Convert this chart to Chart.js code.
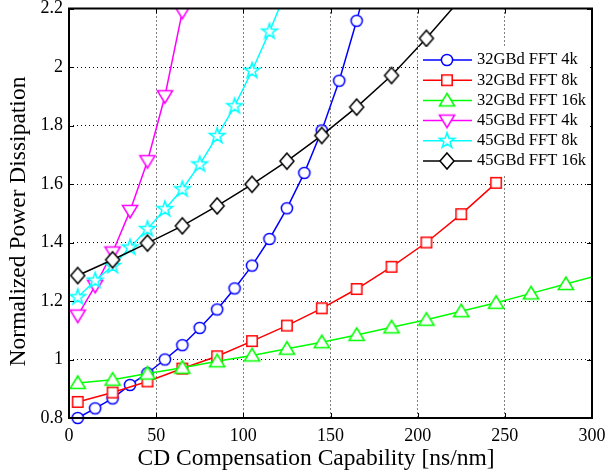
<!DOCTYPE html>
<html><head><meta charset="utf-8">
<script src="https://cdn.jsdelivr.net/npm/chart.js@4.4.0/dist/chart.umd.min.js"></script>
<style>html,body{margin:0;padding:0;background:#fff;}canvas{display:block;}</style>
</head><body>
<canvas id="c" width="607" height="473"></canvas>
<script>
// ---- data ----
const seriesNames = ['32GBd FFT 4k','32GBd FFT 8k','32GBd FFT 16k','45GBd FFT 4k','45GBd FFT 8k','45GBd FFT 16k'];
const x32_4k  = [5,15,25,35,45,55,65,75,85,95,105,115,125,135,145,155,165,175];
const y32_4k  = [0.800,0.833,0.867,0.913,0.953,1.000,1.049,1.108,1.171,1.243,1.321,1.412,1.517,1.638,1.783,1.953,2.158,2.380];
const x32_8k  = [5,25,45,65,85,105,125,145,165,185,205,225,245];
const y32_8k  = [0.855,0.887,0.925,0.969,1.011,1.063,1.116,1.175,1.241,1.317,1.400,1.497,1.604];
const x32_16k = [5,25,45,65,85,105,125,145,165,185,205,225,245,265,285,305];
const y32_16k = [0.920,0.931,0.952,0.972,0.994,1.014,1.037,1.059,1.084,1.110,1.136,1.165,1.194,1.226,1.258,1.290];
const x45_4k  = [5,15,25,35,45,55,65];
const y45_4k  = [1.150,1.252,1.366,1.508,1.678,1.900,2.189];
const x45_8k  = [5,15,25,35,45,55,65,75,85,95,105,115,125];
const y45_8k  = [1.213,1.270,1.320,1.383,1.446,1.514,1.582,1.667,1.764,1.866,1.987,2.121,2.265];
const x45_16k = [5,25,45,65,85,105,125,145,165,185,205,225];
const y45_16k = [1.287,1.341,1.398,1.457,1.525,1.599,1.678,1.766,1.863,1.971,2.098,2.235];

const xTickValues = [0,50,100,150,200,250,300];
const xTickLabels = ['0','50','100','150','200','250','300'];
const yTickValues = [0.8,1,1.2,1.4,1.6,1.8,2,2.2];
const yTickLabels = ['0.8','1','1.2','1.4','1.6','1.8','2','2.2'];
const xTitle = 'CD Compensation Capability [ns/nm]';
const yTitle = 'Normalized Power Dissipation';

// ---- styles ----
const colors = ['#0000ff','#ff0000','#00ff00','#ff00ff','#00ffff','#000000'];
const markerKinds = ['circle','square','up','down','star','diamond'];
const SERIF = "'Liberation Serif', 'Times New Roman', serif";

function makeMarker(kind, color) {
  const c = document.createElement('canvas'); c.width = 22; c.height = 22;
  const g = c.getContext('2d'); const cx = 11, cy = 11;
  g.lineWidth = 1.5; g.strokeStyle = color; g.fillStyle = '#fff'; g.lineJoin = 'miter';
  g.beginPath();
  switch (kind) {
    case 'circle': g.arc(cx, cy, 5.6, 0, Math.PI * 2); break;
    case 'square': g.rect(cx - 5.2, cy - 5.2, 10.4, 10.4); break;
    case 'up': g.moveTo(cx, cy - 7); g.lineTo(cx + 7.6, cy + 5.6); g.lineTo(cx - 7.6, cy + 5.6); g.closePath(); break;
    case 'down': g.moveTo(cx, cy + 7); g.lineTo(cx + 7.6, cy - 5.6); g.lineTo(cx - 7.6, cy - 5.6); g.closePath(); break;
    case 'diamond': g.moveTo(cx, cy - 8); g.lineTo(cx + 7, cy); g.lineTo(cx, cy + 8); g.lineTo(cx - 7, cy); g.closePath(); break;
    case 'star':
      for (let k = 0; k < 10; k++) {
        const r = k % 2 ? 3.2 : 8.2; const a = -Math.PI / 2 + k * Math.PI / 5;
        const px = cx + r * Math.cos(a), py = cy + r * Math.sin(a);
        if (k) g.lineTo(px, py); else g.moveTo(px, py);
      }
      g.closePath(); break;
  }
  g.fill(); g.stroke();
  return c;
}
const markers = markerKinds.map((k, i) => makeMarker(k, colors[i]));

const xs = [x32_4k, x32_8k, x32_16k, x45_4k, x45_8k, x45_16k];
const ys = [y32_4k, y32_8k, y32_16k, y45_4k, y45_8k, y45_16k];

const datasets = seriesNames.map((name, i) => ({
  label: name,
  data: xs[i].map((xv, j) => ({ x: xv, y: ys[i][j] })),
  borderColor: colors[i],
  backgroundColor: colors[i],
  borderWidth: 1.5,
  pointStyle: markers[i],
  pointRadius: 7,
  pointHoverRadius: 7,
  tension: 0,
  order: 5 - i,
  clip: { left: 10, right: 0, top: 0, bottom: 10 }
}));

const framePlugin = {
  id: 'frame',
  afterDatasetsDraw(chart) {
    const { ctx, chartArea: a, scales: { x, y } } = chart;
    ctx.save();
    ctx.strokeStyle = '#000';
    ctx.lineWidth = 1;
    ctx.beginPath();
    xTickValues.forEach(v => {
      const p = Math.round(x.getPixelForValue(v)) + 0.5;
      ctx.moveTo(p, a.bottom); ctx.lineTo(p, a.bottom - 5);
      ctx.moveTo(p, a.top); ctx.lineTo(p, a.top + 5);
    });
    yTickValues.forEach(v => {
      const p = Math.round(y.getPixelForValue(v)) + 0.5;
      ctx.moveTo(a.left, p); ctx.lineTo(a.left + 5, p);
      ctx.moveTo(a.right, p); ctx.lineTo(a.right - 5, p);
    });
    ctx.stroke();
    ctx.lineWidth = 2;
    ctx.strokeRect(a.left, a.top, a.right - a.left, a.bottom - a.top);
    ctx.restore();
  },
  afterDraw(chart) {
    const { ctx } = chart;
    ctx.save();
    // legend
    ctx.fillStyle = '#fff';
    ctx.fillRect(418, 47, 172, 127);
    ctx.font = '16.5px ' + SERIF;
    ctx.textBaseline = 'middle';
    ctx.textAlign = 'left';
    seriesNames.forEach((name, i) => {
      const yy = 60 + i * 20.2;
      ctx.strokeStyle = colors[i];
      ctx.lineWidth = 1.5;
      ctx.beginPath(); ctx.moveTo(423, yy); ctx.lineTo(472, yy); ctx.stroke();
      ctx.drawImage(markers[i], 447 - 11, yy - 11);
      ctx.fillStyle = '#000';
      ctx.fillText(name, 477, yy);
    });
    // axis titles
    ctx.fillStyle = '#000';
    ctx.font = '23.5px ' + SERIF;
    ctx.textAlign = 'center';
    ctx.textBaseline = 'alphabetic';
    ctx.fillText(xTitle, 316, 465);
    ctx.translate(25, 221.5);
    ctx.rotate(-Math.PI / 2);
    ctx.fillText(yTitle, 0, 0);
    ctx.restore();
  }
};

new Chart(document.getElementById('c'), {
  type: 'line',
  data: { datasets },
  options: {
    responsive: false,
    animation: false,
    events: [],
    layout: { padding: { left: 0, right: 15, top: 7, bottom: 0 } },
    plugins: { legend: { display: false }, tooltip: { enabled: false } },
    scales: {
      x: {
        type: 'linear', min: 0, max: 300,
        afterBuildTicks: s => { s.ticks = xTickValues.map(v => ({ value: v })); },
        afterFit: s => { s.height = 55; s.paddingLeft = 0; s.paddingRight = 0; },
        ticks: { callback: (v, i) => xTickLabels[i], color: '#000', font: { family: SERIF, size: 18 }, padding: 7, maxRotation: 0, autoSkip: false },
        grid: { color: '#000', lineWidth: 1, drawTicks: false },
        border: { display: false, dash: [1, 3] }
      },
      y: {
        type: 'linear', min: 0.8, max: 2.2,
        afterBuildTicks: s => { s.ticks = yTickValues.map(v => ({ value: v })); },
        afterFit: s => { s.width = 69; s.paddingTop = 0; s.paddingBottom = 0; },
        ticks: { callback: (v, i) => yTickLabels[i], color: '#000', font: { family: SERIF, size: 18 }, padding: 6, autoSkip: false },
        grid: { color: '#000', lineWidth: 1, drawTicks: false },
        border: { display: false, dash: [1, 3] }
      }
    }
  },
  plugins: [framePlugin]
});
</script>
</body></html>
